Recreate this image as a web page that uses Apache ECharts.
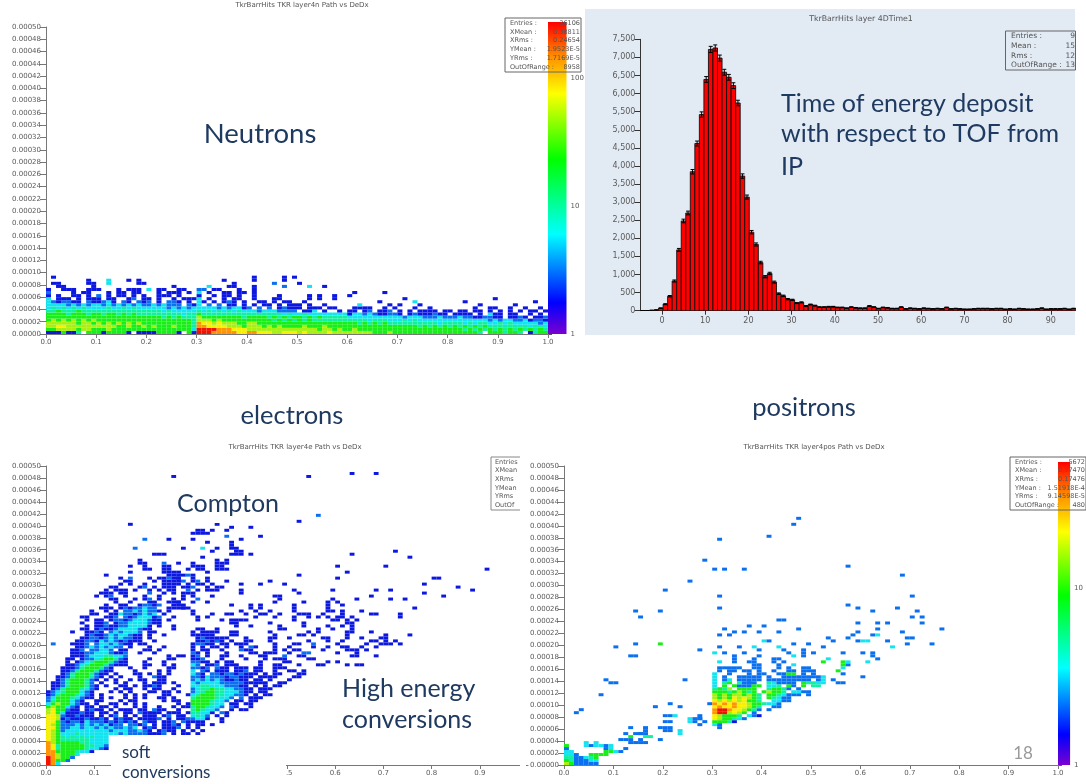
<!DOCTYPE html>
<html><head><meta charset="utf-8">
<style>html,body{margin:0;padding:0;background:#fff}#c{width:1086px;height:784px;filter:blur(0.45px)}</style>
<script src="https://cdn.jsdelivr.net/npm/echarts@6/dist/echarts.min.js"></script>
</head><body><div id="c"></div>
<script>
// colour level of a 2D histogram cell: 1 = lowest count ... 9 = highest count
const levelColors = ['', '#0c18e0', '#0a70f0', '#12e4f0', '#10f0a0', '#18ee18', '#a8f012', '#f8f000', '#ff9400', '#f01400'];
const rainbowStops = [[0,'#7a00d0'],[0.1,'#0000ff'],[0.32,'#00ffff'],[0.56,'#00ff00'],[0.77,'#ffff00'],[0.88,'#ff9900'],[1,'#ff0000']];

const xTicks2D = [0,0.1,0.2,0.3,0.4,0.5,0.6,0.7,0.8,0.9,1];
const histXTicks = [0,10,20,30,40,50,60,70,80,90];

// Neutrons: index = row from y = 0 upward, each character a column (0.01 wide), '.' empty
const neutronRows = [
"1115114.55|5155551.11|1155551.51|9998888877|8877766777|6766667666|6666655565|5555555555|5555554.55|54554.1455",
"5566665665|5565555555|5555555553|9999888777|6666666666|6666566565|5655555555|5555555555|5554545454|5454545454",
"6677666666|6666556556|5655565554|8877776665|6665656555|5655565555|5555555555|5555454545|4545454544|4444443443",
"6666665665|6565656565|5555555554|8776766655|6655555555|5555555555|5545454544|4444444434|4443434433|4343333323",
"5656565656|5555555555|5555555554|6665655555|5555545454|5454444444|4444344433|3434333333|3333333323|2332231221",
"5555555555|5555555555|5554545444|6555555554|5555454545|5454544444|3333333333|3233322232|2232211221|1.1121.112",
"5555455545|5455454544|4444444344|5444444444|4444444343|3433333333|1332321122|1.12111211|.1111.1.31|1.11..1.1.",
"4454445444|4444444444|4443433333|4343434343|3323332222|.113.1..1.|11.12.112.|1.1.1111.1|1.11.11.1.|1.1.1.11.1",
"3434343433|3343343433|3333232323|3333232331|2.2.2.1211|1.111.11..|.1111..1.1|...1..1...|.....1..11|..1..1..1.",
"3333232323|3232323232|2323222.21|3.2.2.11.1|.1.11.1.11|1.1..1....|..3.....1.|1...1.....|......1...|...1......",
"3212211.21|1231.21.21|2.1.221.1.|31.1.121.1|..11.1.11.|.1........|......1...|...3......|...1......|.......1..",
"3.111.1.11|1.11..12.1|1.1..1.111|3.1..1.11.|.1...11...|..1.1..1..|..........|.1........|.........1",
"1.1..11.1.|2.1.11.1.1|..111.1...|1..1.11.1.|.1....1...|..1.1..1..|1.........",
"2....1.11.|..1.11.11.|..1.111.1.|3.1..11.11|.1........|..........|.1.....1",
"1..111..11|1...1.111.|3.11..11..|22.11...1.|.1........",
"..11.....1|..........|.....1....|..3...11..|.1.....2..|..3..1....",
".11.....11|..3.....11|..........|.......1..|.....2....|1",
"........1.|..3...1.1.|..........|.....1....|.1.....1..",
".1........|..........|..........|..........|.1.....1.1"
];

// Electrons: [row, "column:levels ..."], rows 0.000005 tall, columns 0.01 wide
const electronCells = [
[0,"0:983"],[1,"0:98552"],[2,"0:986552"],[3,"0:8865553"],[4,"0:8855554331"],[5,"0:8745555543321"],
[6,"0:8745555544332.1"],[7,"0:8655555443333"],[8,"0:7654444443333"],[9,"0:7654343434333"],
[10,"0:7653334333333332322221112.1.11.1"],
[11,"0:7652333333333233322321.1211.1.1.1"],
[12,"0:7752233233232322323.121.1112.1.1"],
[13,"0:7652223232323122.2212.1.1121.1.11 34:1"],
[14,"0:7752122132221212121.211.112.21 30:11 32:1 36:1"],
[15,"0:7761211121121.1211.11112.1.112 30:233 33:1 36:1"],
[16,"0:7762112111.1.12.1.1.111.12.11 30:3432 35:1 37:1"],
[17,"0:6753111211.11.1.11.21111.1 26:11.1 30:44331 36:21"],
[18,"0:6755211.1211.1.111.11.211 27:1 30:454332 38:1 40:11"],
[19,"0:5655321.11.11.1...1.1..1 26:1 28:11 30:4554332 38:21 42:1"],
[20,"0:356553211.1..11.1.1.1 27:1 29:1 30:5555433.11 41:11"],
[21,"0:24555321..11...1.11.. 24:1.11 30:55554332.11 42:11"],
[22,"0:2355543211.1.1..1.1 20:1 23:11 26:1 30:455554332 40:2.111"],
[23,"0:1245554321.1....1.1.1 24:11 29:1 30:345554433221 43:1.11"],
[24,"0:1234555321...1.1.1 21:11.1 25:1.1 30:2345544333211 44:11"],
[25,"1:1245554321...1.11 20:1 22:11 26:1 30:234454433 39:2211.11 46:1"],
[26,"1:1124555421.1..11 18:1.11 22:21 27:1 30:33443332 38:2211 43:1.1.11"],
[27,"1:112455542.1..1.1 20:1 22:111 26:1 30:32333322 38:22211 43:111 48:11"],
[28,"2:124555421.1 14:1 17:1.11 23:11 30:2323232 37:11211.11 46:1 50:1"],
[29,"2:1124555421 13:1.1 19:1 22:211 30:2213222 37:122111.11 46:11 51:11"],
[30,"3:1245554211.1 18:11 21:1.1 25:1 30:321.221 37:2212111.1 47:11 52:11"],
[31,"3:11245554211 18:1 23:1.1 30:3.21.2 35:111.112 43:11 47:1 50:11 53:1"],
[32,"3:11124555421 17:1 20:1 25:11 30:2212.21 37:1.111 43:11 47:111"],
[33,"4:112345554211 16:1 20:11 24:1.1 30:32.112 37:111 44:1 47:11 52:1 56:11 62:1 64:11"],
[34,"4:1.12345554211 20:1 24:1 30:2211.1 37:11 44:1 49:11 58:1 60:1"],
[35,"4:11.1223455421 21:1 25:11 30:112 36:1 41:1 45:1.11 49:1 54:11"],
[36,"5:11123334433 16:2 25:1 27:11 30:12.1 36:11 40:1 44:11 49:2 52:11 63:11 68:1"],
[37,"5:111223332112 19:1 22:1 30:21.1 37:1 42:11 45:111 50:1 53:22 60:1 64:1"],
[38,"5:112.22332.11 20:11 23:1 30:1 32:11 36:1 40:211 47:1.1 51:11 57:1 62:111 66:1"],
[39,"6:1123232322 17:1 21:1 24:1 30:1 32:1 34:11 37:1 40:1.21 47:1 50:1 55:1 58:1 61:11 65:1 68:1"],
[40,"1:2 5:1112.23323211 17:1.11 30:12211 36:11.11 41:1 47:1 51:11 55:2 60:1 66:1 69:111 73:1"],
[41,"6:11221323212111 22:1 31:11211 35:21 38:1 41:11 46:1 54:1 58:1 61:1 67:11 70:1 72:1"],
[42,"7:1122123232211 21:1 31:121111 37:1 41:1 46:11 50:1 57:11 62:1 65:1 69:11"],
[43,"8:121123233211.1 24:1 30:1 31:1111 38:11 47:1 52:11 55:1 62:1 70:1 75:1"],
[44,"5:1 8:1121.2323332.1 22:1 30:1 32:1111 38:11 46:1 54:1.1 62:11 67:1"],
[45,"7:11.12112333321 21:1 26:1 31:11 35:1 48:11 56:1 59:1 63:1"],
[46,"8:1.112112233331.1 26:1 39:1 42:1 48:1 53:1 58:1 61:1 63:1"],
[47,"7:1 10:112.1223333211 38:11 46:1 53:1 62:11"],
[48,"8:1 10:11.12212333211 25:1 31:1 36:1 38:111 41:1 51:1 59:11 62:1 64:1"],
[49,"7:11 12:112.2123332 22:12 26:1 31:1 33:1 43:1 47:1 51:1 54:1.1 58:1 60:11 63:1 73:1"],
[50,"9:11 13:1132212323 24:1 30:1 34:1 37:11 41:1 44:11 48:1 52:111 57:1 61:1 67:11 73:1"],
[51,"9:1 12:1 14:1.22323221 25:1 30:1 40:1 43:1 46:1 51:1 58:11 61:1 65:1"],
[52,"11:111 15:12122322 25:1111 28:11 42:1 44:1 51:1 58:1 76:1"],
[53,"12:1 15:11 19:12212 26:111 38:1 42:1 44:1 51:1 58:1 61:1"],
[54,"14:1 17:1 21:11 25:111 27:1 30:1 33:1 47:1 53:1 58:1 60:1"],
[55,"13:11 18:1 20:12 23:1 26:1 28:1 31:2 48:1 59:1 64:1 71:1 74:1"],
[56,"10:1 12:12 16:1 20:1 23:1 28:1 30:1 34:1 47:11 67:1 82:1"],
[57,"11:111 15:11 21:2 24:1.1 28:11 30:1 40:1 52:1 78:1"],
[58,"12:1 14:111 18:1 21:1 23:1 25:11 29:2 31:1 33:111 40:1 51:1 59:1 68:1 71:1 88:1"],
[59,"13:11 19:12 22:1 24:111 28:112 33:1 35:11 85:1"],
[60,"15:1 17:1 20:1 24:1111 29:1 31:11 34:1 40:1 44:1 49:1 78:1"],
[61,"16:11 22:1 24:1111 28:2 30:12 33:1 37:1 46:1"],
[62,"15:1 17:2 21:1 23:11211 27:1 30:1 33:1 60:1 80:11"],
[63,"12:1 25:11112 30:1 52:1"],
[64,"17:1 24:111 27:1 33:1 62:1"],
[65,"20:11 24:11 29:1 31:11 35:111 91:1"],
[66,"17:1 20:1 24:11 30:11 32:1 35:11 60:1 70:1"],
[67,"19:11 24:2 27:1 30:1 35:1 36:11"],
[68,"19:1 35:1 37:1"],
[69,"32:1 75:1"],
[70,"22:111 38:11 40:1 42:1 63:1"],
[71,"34:1 39:1 40:1 72:1"],
[72,"18:2 28:1 32:3 35:1 38:11"],
[73,"38:1"],
[74,"33:1 38:1"],
[75,"20:2 25:1 30:1 40:1"],
[76,"37:2 44:1"],
[77,"30:1 31:11 33:1"],
[78,"31:11 34:1 37:1"],
[79,"38:1 42:1"],
[80,"17:1 35:1"],
[81,"52:1"],
[83,"56:2"],
[96,"26:1 54:1"],
[97,"63:1 68:1"]
];

// Positrons, same format
const positronCells = [
[0,"0:6522222"],[1,"0:54222 5:33"],[2,"0:4422 4:3 5:45"],[3,"0:33 2:2 5:55 7:55"],[4,"0:33 8:553 11:2"],
[5,"0:2 8:2 9:3 12:2"],[6,"0:5 4:32 6:33 8:23"],[7,"4:3 6:3 13:22 15:22"],[8,"11:222.2 19:2"],[9,"13:5 16:44"],
[10,"12:2.22 15:22 23:3"],[11,"16:2 20:22 23:3"],[12,"13:2 16:2 19:2 20:22 31:2"],[13,"27:2 30:3 31:2"],
[14,"20:22 25:32 28:2 30:55541"],[15,"25:322 27:2 30:7655432"],[16,"20:223 27:2 30:765554 37:321"],
[17,"2:2 30:8996765 38:2"],[18,"3:2 30:8998776542 41:2"],[19,"18:2 23:2 30:7877877654 42:22"],
[20,"21:2 29:2 30:8787877655433 43:2"],[21,"30:7676767554 42:332 45:2"],[22,"30:6565767654 41:54322"],
[23,"7:2 30:6565665654 41:554322 47:2 49:2"],[24,"30:555456545 40:56554 46:332 49:2"],
[25,"30:4546.5555 41:45542 47:2"],[26,"30:3.5.5 35:22255 41:334 45:52 48:5.44"],
[27,"9:2 10:2 30:3.45.422 37:22 41:4322 45:22 48:5443 52:3 55:22"],
[28,"8:2 24:2 30:3 32:23 35:2222 39:2 41:222 44:222222 51:2 52:3 54:2"],
[29,"30:3 32:2 35:22222 41:2 44:2 45:222222 51:2 52:3 60:2"],
[30,"30:3 33:2 37:2 39:22 43:22 45:55 48:2 50:2 56:2"],
[31,"31:2 33:22 36:22 39:2 42:2 45:22 48:222 55:5"],
[32,"31:22 33:222 38:22 43:2 45:2 48:22 56:3"],
[33,"38:22 43:2 46:3 56:5 57:2"],
[34,"31:3 34:2 37:2 38:2 42:2 44:2 52:5 56:5 57:3 61:3"],
[35,"34:2 38:2 42:22 53:3 63:2"],
[36,"13:22 34:2 39:2 46:3 48:2 62:2"],
[37,"30:3 32:2 36:2 45:2 48:2 50:2 56:2 60:2 62:2"],
[38,"27:2 39:2 44:2 48:2"],
[39,"10:2 31:2 35:2 38:3 43:3 52:2 66:3"],
[40,"14:2 19:5 46:2 49:2 69:2 74:2"],
[41,"40:32 54:2 59:233 65:2"],
[42,"53:2 57:2 69:22"],
[43,"31:2 33:2 58:2 62:2 63:3"],
[44,"34:2 36:2 39:2 43:2 59:2 68:2"],
[45,"32:2 47:2 63:2 76:2"],
[46,"37:2 40:2"],
[47,"59:2 63:2 65:2 72:2"],
[48,"43:22"],
[49,"15:2 70:2 72:2"],
[51,"14:2 19:2 62:2 71:2"],
[52,"31:2 59:2 67:2"],
[53,"57:2"],
[56,"31:2 70:2"],
[58,"20:2"],
[61,"25:2"],
[63,"68:2"],
[65,"30:2 32:2 36:2"],
[66,"57:2"],
[68,"28:2"],
[75,"31:2"],
[76,"41:2"],
[80,"46:2"],
[82,"47:2"]
];

// Time histogram: bin 0 starts at -5, bins are 1.05 wide
const histValues = [0,0,10,20,70,180,400,820,1680,2480,2700,3840,4620,5420,6390,7220,7260,6980,6590,6450,6220,5740,3720,3140,2170,1830,1330,940,1030,790,470,410,320,300,210,230,130,170,140,100,100,110,110,90,90,70,100,80,70,70,130,100,60,90,80,60,60,100,50,70,60,50,70,60,50,60,50,90,50,60,50,40,40,50,60,60,60,50,60,60,40,50,40,60,50,40,40,50,70,40,50,50,50,60,40,60];
const histErrors = [0,0,3,4,8,13,20,29,41,50,52,62,68,74,80,85,85,84,81,80,79,76,61,56,47,43,36,31,32,28,22,20,18,17,14,15,11,13,12,10,10,10,10,9,9,8,10,9,8,8,11,10,8,9,9,8,8,10,7,8,8,7,8,8,7,8,7,9,7,8,7,6,6,7,8,8,8,7,8,8,6,7,6,8,7,6,6,7,8,6,7,7,7,8,6,8];

const BX = 0.01, BY = 0.000005, HBIN = 1.05, HMIN = -5;
function parseDense(rows){ const out=[]; rows.forEach((s,r)=>{ [...s.replace(/\|/g,'')].forEach((ch,c)=>{ if(ch!=='.') out.push([c*BX,r*BY,+ch]); }); }); return out; }
function parseSparse(rows){ const out=[]; rows.forEach(([r,s])=>{ s.split(' ').forEach(tok=>{ if(tok.indexOf(':')<0) return; const [c,lv]=tok.split(':'); [...lv].forEach((ch,i)=>{ if(ch!=='.') out.push([(+c+i)*BX,r*BY,+ch]); }); }); }); return out; }

function cellSeries(idx,data){ return {type:'custom',xAxisIndex:idx,yAxisIndex:idx,clip:true,animation:false,progressive:0,silent:true,z:2,data,
  encode:{x:0,y:1},
  renderItem:(p,api)=>{ const x=api.value(0),y=api.value(1),a=api.coord([x,y]),b=api.coord([x+BX,y+BY]);
    return {type:'rect',shape:{x:a[0],y:b[1],width:b[0]-a[0],height:a[1]-b[1]},style:{fill:levelColors[api.value(2)]}}; }}; }
function barSeries(idx,top){ return {type:'custom',xAxisIndex:idx,yAxisIndex:idx,animation:false,silent:true,z:2,data:[[0,1,1,top]],
  encode:{x:[0,2],y:[1,3]},
  renderItem:(p,api)=>{ const a=api.coord([0,1]),b=api.coord([1,top]);
    return {type:'rect',shape:{x:a[0],y:b[1],width:b[0]-a[0],height:a[1]-b[1]},
      style:{fill:{type:'linear',x:0,y:1,x2:0,y2:0,colorStops:rainbowStops.map(s=>({offset:s[0],color:s[1]}))}}}; }}; }

const axisGrey='#777', labelGrey='#5a5a5a', small='DejaVu Sans';
const xAxis2D=(g,extra)=>Object.assign({type:'value',gridIndex:g,min:0,max:1,interval:0.1,splitLine:{show:false},
  axisLine:{onZero:false,lineStyle:{color:axisGrey,width:1}},axisTick:{length:4,lineStyle:{color:axisGrey}},
  axisLabel:{fontFamily:small,fontSize:7,color:labelGrey,margin:5,formatter:v=>v.toFixed(1)}},extra||{});
const yAxis2D=(g)=>({type:'value',gridIndex:g,min:0,max:0.0005,interval:0.00002,splitLine:{show:false},
  axisLine:{onZero:false,lineStyle:{color:axisGrey,width:1}},axisTick:{length:6,lineStyle:{color:axisGrey}},
  axisLabel:{fontFamily:small,fontSize:7,color:labelGrey,margin:5,formatter:v=>v.toFixed(5)}});
const cbX=(g)=>({type:'value',gridIndex:g,min:0,max:1,show:false});
const cbY=(g,top)=>({type:'log',logBase:10,gridIndex:g,min:1,max:top,position:'right',splitLine:{show:false},
  axisLine:{show:false},axisTick:{inside:false,length:4,lineStyle:{color:'#555'}},minorTick:{show:false},
  axisLabel:{fontFamily:small,fontSize:7,color:labelGrey,margin:4,showMaxLabel:false,formatter:v=>String(Math.round(v))}});

const ink='#1f3a60';
const bigText=(text,x,y,size,align)=>({type:'text',z:101,style:{text,x,y,fill:ink,font:size+'px Lato',textAlign:align||'left',textVerticalAlign:'middle'}});
const tiny=(text,x,y,align,size)=>({type:'text',z:6,style:{text,x,y,fill:'#555',font:(size||6.5)+'px "DejaVu Sans"',textAlign:align||'left',textVerticalAlign:'middle'}});
const whiteBox=(x,y,width,height)=>({type:'rect',z:100,shape:{x,y,width,height},style:{fill:'#fff'}});
const frame=(x,y,width,height)=>({type:'rect',z:5,shape:{x,y,width,height},style:{fill:'none',stroke:'#666',lineWidth:1}});

const statsN=[['Entries :','36106'],['XMean :','0.38811'],['XRms :','0.24654'],['YMean :','1.9523E-5'],['YRms :','1.7169E-5'],['OutOfRange :','8958']];
const statsP=[['Entries :','5672'],['XMean :','0.37470'],['XRms :','0.17476'],['YMean :','1.51918E-4'],['YRms :','9.14598E-5'],['OutOfRange :','480']];
const statsE=['Entries','XMean','XRms','YMean','YRms','OutOf'];
const statsT=[['Entries :','9'],['Mean :','15'],['Rms :','12'],['OutOfRange :','13']];

const g=[];
g.push({type:'rect',z:-1,shape:{x:585,y:9,width:490,height:326},style:{fill:'#e2eaf4'}});
g.push(frame(505,18,76,54));
statsN.forEach((s,i)=>{g.push(tiny(s[0],510,23+i*8.9));g.push(tiny(s[1],580,23+i*8.9,'right'));});
g.push(frame(1005.5,31,70,39));
statsT.forEach((s,i)=>{g.push(tiny(s[0],1011,36+i*9.8,'left',7.5));g.push(tiny(s[1],1075,36+i*9.8,'right',7.5));});
g.push({type:'polyline',z:5,shape:{points:[[520,457],[491,457],[491,510],[520,510]]},style:{fill:'none',stroke:'#888',lineWidth:1}});
statsE.forEach((s,i)=>g.push(tiny(s,495,462+i*8.7)));
g.push(frame(1010,457,76,53));
statsP.forEach((s,i)=>{g.push(tiny(s[0],1015,462+i*8.7));g.push(tiny(s[1],1085,462+i*8.7,'right'));});
g.push(whiteBox(165,480,125,43));
g.push(whiteBox(111,735,175,49));
g.push(whiteBox(520,760,6,24));
g.push(bigText('Neutrons',260,134,27.5,'center'));
g.push(bigText('Time of energy deposit',781,104,25));
g.push(bigText('with respect to TOF from',781,134,25));
g.push(bigText('IP',781,167,25));
g.push(bigText('electrons',292,416,25.5,'center'));
g.push(bigText('positrons',804,408,25.5,'center'));
g.push(bigText('Compton',177,504,25));
g.push(bigText('High energy',342,689,25));
g.push(bigText('conversions',342,720,25));
g.push(bigText('soft',122,753,17));
g.push(bigText('conversions',122,773,17));
g.push({type:'text',z:101,style:{text:'18',x:1023,y:754,fill:'#9a9a9a',font:'17px Lato',textAlign:'center',textVerticalAlign:'middle'}});

const option={
  backgroundColor:'#fff',animation:false,
  title:[
    {text:'TkrBarrHits TKR layer4n Path vs DeDx',left:297,top:-3,textAlign:'center',textStyle:{fontFamily:small,fontSize:7,fontWeight:'normal',color:'#555'}},
    {text:'TkrBarrHits layer 4DTime1',left:856,top:10,textAlign:'center',textStyle:{fontFamily:small,fontSize:7.8,fontWeight:'normal',color:'#555'}},
    {text:'TkrBarrHits TKR layer4e Path vs DeDx',left:290,top:439,textAlign:'center',textStyle:{fontFamily:small,fontSize:7,fontWeight:'normal',color:'#555'}},
    {text:'TkrBarrHits TKR layer4pos Path vs DeDx',left:809,top:439,textAlign:'center',textStyle:{fontFamily:small,fontSize:7,fontWeight:'normal',color:'#555'}}
  ],
  grid:[
    {left:46,top:27,width:502,height:307,containLabel:false},
    {left:640.4,top:39.3,width:434.6,height:271.4},
    {left:46,top:466,width:482,height:299},
    {left:564,top:466,width:494,height:299},
    {left:548,top:22,width:18.5,height:312},
    {left:1058,top:462,width:18,height:303}
  ],
  xAxis:[
    xAxis2D(0),
    {type:'value',gridIndex:1,min:HMIN,max:95.6,splitLine:{show:false},
      axisLine:{onZero:false,lineStyle:{color:'#333'}},axisTick:{length:4,lineStyle:{color:'#333'},customValues:histXTicks},
      axisLabel:{fontFamily:small,fontSize:8,color:labelGrey,margin:6,customValues:histXTicks}},
    xAxis2D(2,{axisLabel:{fontFamily:small,fontSize:7,color:labelGrey,margin:5,showMaxLabel:false,formatter:v=>v.toFixed(1)}}),
    xAxis2D(3),
    cbX(4),cbX(5)
  ],
  yAxis:[
    yAxis2D(0),
    {type:'value',gridIndex:1,min:0,max:7500,interval:500,splitLine:{show:false},
      axisLine:{onZero:false,lineStyle:{color:'#333'}},axisTick:{length:6,lineStyle:{color:'#333'}},
      axisLabel:{fontFamily:small,fontSize:8,color:labelGrey,margin:5,formatter:v=>v.toLocaleString('en-US')}},
    yAxis2D(2),yAxis2D(3),cbY(4,275),cbY(5,52)
  ],
  graphic:g,
  series:[
    cellSeries(0,parseDense(neutronRows)),
    {type:'custom',xAxisIndex:1,yAxisIndex:1,clip:true,animation:false,silent:true,z:2,
      data:histValues.map((v,i)=>[HMIN+i*HBIN,v,histErrors[i]]),encode:{x:0,y:1},
      renderItem:(p,api)=>{ const x=api.value(0),v=api.value(1),e=api.value(2);
        const a=api.coord([x,0]),b=api.coord([x+HBIN,v]),c=(a[0]+b[0])/2,hi=api.coord([x,v+e])[1],lo=api.coord([x,v-e])[1];
        const ln=(x1,y1,x2,y2)=>({type:'line',shape:{x1,y1,x2,y2},style:{stroke:'#000',lineWidth:1}});
        return {type:'group',children:[
          {type:'rect',shape:{x:a[0],y:b[1],width:b[0]-a[0],height:a[1]-b[1]},style:{fill:'#ff0000',stroke:'#111',lineWidth:0.9}},
          ln(c,hi,c,lo),ln(c-2,hi,c+2,hi),ln(c-2,lo,c+2,lo)]}; }},
    cellSeries(2,parseSparse(electronCells)),
    cellSeries(3,parseSparse(positronCells)),
    barSeries(4,275),
    barSeries(5,52)
  ]
};
echarts.init(document.getElementById('c'),null,{renderer:'canvas'}).setOption(option);
</script></body></html>
